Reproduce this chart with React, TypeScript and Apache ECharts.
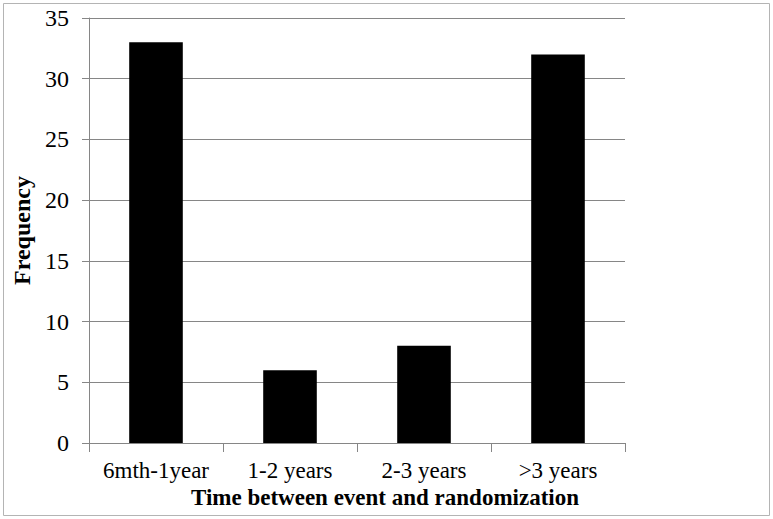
import React, { useEffect, useRef } from "react";
import * as echarts from "echarts";

const categories = ["6mth-1year", "1-2 years", "2-3 years", ">3 years"];
const frequencies = [33, 6, 8, 32];
const yTicks = { min: 0, max: 35, interval: 5 };
const xTitle = "Time between event and randomization";
const yTitle = "Frequency";

export default function App() {
  const ref = useRef<HTMLDivElement>(null);
  useEffect(() => {
    document.body.style.margin = "0";
    const chart = echarts.init(ref.current!, null, { renderer: "svg" });
    const font = "Liberation Serif, Times New Roman, serif";
    chart.setOption({
      animation: false,
      backgroundColor: "#ffffff",
      grid: { left: 89, right: 148, top: 18, bottom: 76, containLabel: false },
      xAxis: {
        type: "category",
        data: categories,
        axisLine: { lineStyle: { color: "#868686", width: 1 } },
        axisTick: { show: true, length: 9, lineStyle: { color: "#868686" } },
        axisLabel: {
          interval: 0,
          color: "#000",
          fontFamily: font,
          fontSize: 23,
          lineHeight: 20,
          margin: 17,
        },
      },
      yAxis: {
        type: "value",
        min: yTicks.min,
        max: yTicks.max,
        interval: yTicks.interval,
        name: yTitle,
        nameLocation: "middle",
        nameGap: 52,
        nameTextStyle: { color: "#000", fontFamily: font, fontSize: 24, fontWeight: "bold" },
        axisLine: { show: true, lineStyle: { color: "#868686", width: 1 } },
        axisTick: { show: true, length: 7, lineStyle: { color: "#868686" } },
        splitLine: { lineStyle: { color: "#868686", width: 1 } },
        axisLabel: { color: "#000", fontFamily: font, fontSize: 24, margin: 20 },
      },
      series: [
        {
          type: "bar",
          data: frequencies,
          barCategoryGap: "60%",
          itemStyle: { color: "#000000" },
        },
      ],
      graphic: [
        {
          type: "rect",
          shape: { x: 3.5, y: 3.5, width: 766, height: 512 },
          style: { fill: "none", stroke: "#b4b4b4", lineWidth: 1 },
          silent: true,
        },
        {
          type: "text",
          x: 385,
          y: 497,
          style: {
            text: xTitle,
            fontFamily: font,
            fontSize: 23,
            lineHeight: 20,
            fontWeight: "bold",
            fill: "#000",
            align: "center",
            verticalAlign: "middle",
          },
        },
      ],
    });
    return () => chart.dispose();
  }, []);
  return <div ref={ref} style={{ width: 773, height: 519 }} />;
}
